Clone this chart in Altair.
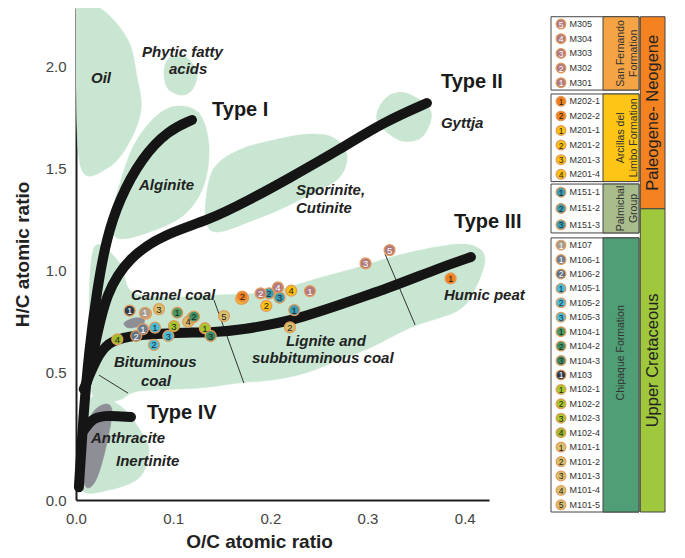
import altair as alt
import pandas as pd

FONT = "Liberation Sans"
GREEN = "#C8E6D2"
GREY = "#8E8E96"
INK = "#1E1E1E"
RING = "#E39B5B"

# ---------------- samples (legend order) ----------------
sample_names = ["M305", "M304", "M303", "M302", "M301",
                "M202-1", "M202-2", "M201-1", "M201-2", "M201-3", "M201-4",
                "M151-1", "M151-2", "M151-3",
                "M107", "M106-1", "M106-2", "M105-1", "M105-2", "M105-3",
                "M104-1", "M104-2", "M104-3", "M103",
                "M102-1", "M102-2", "M102-3", "M102-4",
                "M101-1", "M101-2", "M101-3", "M101-4", "M101-5"]
sample_numbers = ["5", "4", "3", "2", "1",
                  "1", "2", "1", "2", "3", "4",
                  "1", "2", "3",
                  "1", "1", "2", "1", "2", "3",
                  "1", "2", "3", "1",
                  "1", "2", "3", "4",
                  "1", "2", "3", "4", "5"]
sample_fills = ["#B07A7E", "#B07A7E", "#B07A7E", "#B07A7E", "#B07A7E",
                "#F07F1E", "#F07F1E", "#FDC10E", "#FDC10E", "#FDC10E", "#FDC10E",
                "#3B9DB0", "#3B9DB0", "#3B9DB0",
                "#A59D90", "#6D7E93", "#5F6F82", "#4BBCD6", "#4BBCD6", "#4BBCD6",
                "#4B9A66", "#3F9366", "#3E8C68", "#2F3B4C",
                "#A6C72D", "#A6C72D", "#A6C72D", "#9DBD2A",
                "#D9C06E", "#D9C06E", "#D9C06E", "#D9C06E", "#D9C06E"]
sample_textcol = ["white", "white", "white", "white", "white",
                  "#222", "#222", "#222", "#222", "#222", "#222",
                  "#1a2a3a", "#1a2a3a", "#1a2a3a",
                  "white", "white", "white", "#1a2a3a", "#1a2a3a", "#1a2a3a",
                  "#1a2a1a", "#1a2a1a", "#1a2a1a", "white",
                  "#222", "#222", "#222", "#222",
                  "#222", "#222", "#222", "#222", "#222"]
# O/C and H/C atomic ratios
sample_oc = [0.3227, 0.2078, 0.298, 0.190, 0.2407,
             0.3855, 0.1711, 0.170, 0.1958, 0.172, 0.2215,
             0.2246, 0.1986, 0.2095,
             0.071, 0.0689, 0.062, 0.0813, 0.0802, 0.095,
             0.1042, 0.1214, 0.1386, 0.0552,
             0.1327, 0.120, 0.1008, 0.0425,
             0.072, 0.2202, 0.0854, 0.1155, 0.1523]
sample_hc = [1.101, 0.918, 1.036, 0.889, 0.900,
             0.962, 0.873, 0.862, 0.828, 0.866, 0.902,
             0.807, 0.889, 0.868,
             0.793, 0.714, 0.680, 0.721, 0.636, 0.680,
             0.794, 0.775, 0.680, 0.804,
             0.718, 0.770, 0.729, 0.664,
             0.790, 0.722, 0.812, 0.750, 0.778]
# samples whose circles are fully covered by others in the diagram
covered = ["M201-1", "M201-3", "M102-2", "M101-1"]

# ---------------- stratigraphy (legend table) ----------------
group_labels = ["San Fernando\nFormation", "Arcillas del\nLimbo Formation",
                "Palmichal\nGroup", "Chipaque Formation"]
group_counts = [5, 6, 3, 19]
group_colors = ["#F5A445", "#FDC515", "#A9BC8C", "#4F9E75"]
group_top = [0.0, 5.31, 11.5, 15.2]
group_bottom = [5.04, 11.33, 14.86, 34.04]
group_label_y = [2.52, 8.32, 13.18, 23.1]

era_labels = ["Paleogene- Neogene", "Upper Cretaceous"]
era_colors = ["#F58220", "#9FC83D"]
era_top = [0.0, 13.2]
era_bottom = [13.2, 34.04]

# ---------------- facies fields (outline vertices, O/C, H/C) ----------------
blob_oil_x = [0.0, 0.027, 0.0535, 0.0628, 0.0669, 0.0545, 0.034, 0.006, 0.0]
blob_oil_y = [2.30, 2.28, 2.131, 1.95, 1.788, 1.626, 1.508, 1.494, 1.9]
blob_phytic_x = [0.100, 0.114, 0.1245, 0.120, 0.109, 0.095, 0.0905, 0.093]
blob_phytic_y = [2.050, 2.045, 1.969, 1.890, 1.861, 1.890, 1.959, 2.025]
blob_alginite_x = [0.1029, 0.1265, 0.1368, 0.1317, 0.1111, 0.0751, 0.0422, 0.037, 0.0463, 0.0597, 0.0802]
blob_alginite_y = [1.807, 1.772, 1.616, 1.420, 1.273, 1.189, 1.160, 1.273, 1.445, 1.616, 1.748]
blob_sporinite_x = [0.1337, 0.142, 0.1677, 0.2037, 0.2397, 0.2654, 0.2788, 0.2706, 0.2397, 0.2088, 0.178, 0.1471, 0.1348]
blob_sporinite_y = [1.347, 1.503, 1.592, 1.641, 1.670, 1.651, 1.567, 1.455, 1.371, 1.298, 1.239, 1.190, 1.224]
blob_gyttja_x = [0.3395, 0.3652, 0.356, 0.3323, 0.3097, 0.3189]
blob_gyttja_y = [1.871, 1.783, 1.655, 1.641, 1.739, 1.847]
blob_coal_x = [0.0185, 0.0442, 0.0576, 0.0957, 0.1471, 0.1986, 0.25, 0.2912, 0.3323, 0.3837, 0.4095,
               0.4208, 0.4126, 0.394, 0.3457, 0.3045, 0.2706, 0.2366, 0.2016, 0.1677, 0.1265, 0.0648,
               0.0442, 0.0185, 0.0134]
blob_coal_y = [1.111, 1.043, 0.896, 0.871, 0.881, 0.896, 0.964, 1.018, 1.077, 1.126, 1.121,
               1.062, 0.930, 0.807, 0.724, 0.626, 0.562, 0.499, 0.464, 0.450, 0.425, 0.410,
               0.366, 0.366, 0.709]
blob_inert_x = [0.0113, 0.0442, 0.0679, 0.0751, 0.0648, 0.034, 0.006, 0.003]
blob_inert_y = [0.366, 0.342, 0.204, 0.106, -0.016, -0.075, -0.075, 0.121]
blob_anthr_x = [0.0267, 0.037, 0.0309, 0.0206, 0.0103, 0.0062, 0.0134]
blob_anthr_y = [0.342, 0.317, 0.136, -0.026, -0.06, 0.058, 0.268]
blob_cannel_x = [0.0494, 0.0597, 0.070, 0.0679, 0.0545]
blob_cannel_y = [0.744, 0.768, 0.763, 0.734, 0.719]

# ---------------- evolution paths ----------------
type1_x = [0.003, 0.0072, 0.0134, 0.0216, 0.0309, 0.0442, 0.0679, 0.0957, 0.1193]
type1_y = [-0.061, 0.268, 0.611, 0.905, 1.150, 1.347, 1.557, 1.690, 1.739]
type2_x = [0.011, 0.0206, 0.0309, 0.0545, 0.0905, 0.1368, 0.178, 0.2161, 0.2737, 0.3148, 0.3611]
type2_y = [0.45, 0.659, 0.891, 1.067, 1.179, 1.248, 1.346, 1.445, 1.601, 1.724, 1.822]
type3_x = [0.008, 0.0237, 0.037, 0.0617, 0.0957, 0.1471, 0.1677, 0.2191, 0.2706, 0.322, 0.3735, 0.4064]
type3_y = [0.42, 0.602, 0.660, 0.685, 0.695, 0.699, 0.709, 0.749, 0.832, 0.915, 1.013, 1.067]
type4_x = [0.0082, 0.0154, 0.0267, 0.0566]
type4_y = [0.219, 0.268, 0.293, 0.283]

rank_x1 = [0.0237, 0.142, 0.318]
rank_y1 = [0.488, 0.856, 1.082]
rank_x2 = [0.0535, 0.1728, 0.349]
rank_y2 = [0.40, 0.449, 0.734]

# ---------------- text labels ----------------
field_text = ["Oil", "Phytic fatty", "acids", "Alginite", "Gyttja", "Sporinite,", "Cutinite",
              "Humic peat", "Cannel coal", "Lignite and", "subbituminous coal",
              "Bituminous", "coal", "Anthracite", "Inertinite"]
field_x = [0.0154, 0.0679, 0.0957, 0.0648, 0.3755, 0.2263, 0.2263,
           0.3786, 0.0566, 0.216, 0.181, 0.0391, 0.0669, 0.0154, 0.0412]
field_y = [1.945, 2.074, 1.989, 1.420, 1.724, 1.396, 1.307,
           0.882, 0.881, 0.655, 0.572, 0.552, 0.459, 0.180, 0.067]
type_text = ["Type I", "Type II", "Type III", "Type IV"]
type_x = [0.14, 0.3755, 0.389, 0.073]
type_y = [1.787, 1.925, 1.239, 0.302]

# ======================= build tables =======================
def blob_frame(name, xs, ys):
    return pd.DataFrame({"blob": name, "i": range(len(xs)), "oc": xs, "hc": ys})

green_df = pd.concat([
    blob_frame("oil", blob_oil_x, blob_oil_y),
    blob_frame("phytic", blob_phytic_x, blob_phytic_y),
    blob_frame("alginite", blob_alginite_x, blob_alginite_y),
    blob_frame("sporinite", blob_sporinite_x, blob_sporinite_y),
    blob_frame("gyttja", blob_gyttja_x, blob_gyttja_y),
    blob_frame("coal", blob_coal_x, blob_coal_y),
    blob_frame("inertinite", blob_inert_x, blob_inert_y),
], ignore_index=True)
grey_df = pd.concat([
    blob_frame("anthracite", blob_anthr_x, blob_anthr_y),
    blob_frame("cannel", blob_cannel_x, blob_cannel_y),
], ignore_index=True)
path_df = pd.concat([
    blob_frame("I", type1_x, type1_y),
    blob_frame("II", type2_x, type2_y),
    blob_frame("III", type3_x, type3_y),
    blob_frame("IV", type4_x, type4_y),
], ignore_index=True)
rank_df = pd.DataFrame({"x1": rank_x1, "y1": rank_y1, "x2": rank_x2, "y2": rank_y2})
field_df = pd.DataFrame({"t": field_text, "oc": field_x, "hc": field_y})
type_df = pd.DataFrame({"t": type_text, "oc": type_x, "hc": type_y})

samples = pd.DataFrame({"name": sample_names, "num": sample_numbers, "fill": sample_fills,
                        "tc": sample_textcol, "oc": sample_oc, "hc": sample_hc})
plot_samples = samples.iloc[::-1].reset_index(drop=True)  # drawing order
visible_nums = plot_samples[~plot_samples["name"].isin(covered)]

XS = alt.Scale(domain=[0, 0.425], nice=False, zero=False)
YS = alt.Scale(domain=[-0.124, 2.288], nice=False, zero=False)
XA = alt.Axis(values=[0, 0.1, 0.2, 0.3, 0.4], format=".1f", title="O/C atomic ratio",
              grid=False, ticks=False, domainColor=INK, domainWidth=2, labelFlush=False,
              labelFont=FONT, labelFontSize=15, labelColor="#444", labelPadding=11,
              titleFont=FONT, titleFontSize=19, titleFontWeight="bold", titleColor="#222",
              titlePadding=6, titleX=183)
YA = alt.Axis(values=[-0.124, 0.5, 1.0, 1.5, 2.0],
              labelExpr="datum.value < 0 ? '0.0' : format(datum.value, '.1f')",
              title="H/C atomic ratio", grid=False, ticks=False, domainColor=INK, domainWidth=2,
              labelFlush=False, labelFont=FONT, labelFontSize=15, labelColor="#444", labelPadding=10,
              titleFont=FONT, titleFontSize=19, titleFontWeight="bold", titleColor="#222",
              titlePadding=13)


def X(f="oc"):
    return alt.X(f, type="quantitative", scale=XS, axis=XA)


def Y(f="hc"):
    return alt.Y(f, type="quantitative", scale=YS, axis=YA)


green = alt.Chart(green_df).mark_line(
    fill=GREEN, stroke=GREEN, strokeWidth=0.5, interpolate="cardinal-closed", clip=True
).encode(x=X(), y=Y(), detail="blob:N", order="i:Q")
grey = alt.Chart(grey_df).mark_line(
    fill=GREY, stroke=GREY, strokeWidth=0.5, interpolate="cardinal-closed", clip=True
).encode(x=X(), y=Y(), detail="blob:N", order="i:Q")
ranks = alt.Chart(rank_df).mark_rule(color="#333", strokeWidth=1).encode(
    x=X("x1"), y=Y("y1"), x2="x2:Q", y2="y2:Q")
paths = alt.Chart(path_df).mark_line(
    color="#151515", strokeWidth=10, strokeCap="round", strokeJoin="round", interpolate="basis"
).encode(x=X(), y=Y(), detail="blob:N", order="i:Q")
field_lbl = alt.Chart(field_df).mark_text(
    font=FONT, fontSize=15, fontWeight="bold", fontStyle="italic", color="#222",
    align="left", baseline="middle"
).encode(x=X(), y=Y(), text="t:N")
type_lbl = alt.Chart(type_df).mark_text(
    font=FONT, fontSize=20, fontWeight="bold", color="#1a1a1a", align="left", baseline="middle"
).encode(x=X(), y=Y(), text="t:N")
pts = alt.Chart(plot_samples).mark_point(
    filled=True, size=120, stroke=RING, strokeWidth=1.3, opacity=1, shape="circle"
).encode(x=X(), y=Y(), fill=alt.Fill("fill:N", scale=None))
pts_num = alt.Chart(visible_nums).mark_text(
    font=FONT, fontSize=9.5, baseline="middle", align="center", dy=0.5
).encode(x=X(), y=Y(), text="num:N", color=alt.Color("tc:N", scale=None))

main = alt.layer(green, grey, ranks, paths, field_lbl, type_lbl, pts, pts_num).properties(
    width=413, height=492)

# ======================= legend table =======================
rows = []
for g, n in enumerate(group_counts):
    step = (group_bottom[g] - group_top[g]) / n
    for i in range(n):
        rows.append(group_top[g] + (i + 0.5) * step)
leg = samples.copy()
leg["row"] = rows
leg["cx"] = 10.0
leg["tx"] = 18.5

grp_df = pd.DataFrame({"label": group_labels, "color": group_colors, "top": group_top,
                       "bottom": group_bottom, "ly": group_label_y,
                       "a0": 0.0, "a1": 88.0, "b0": 52.0, "lx": 70.0})
era_df = pd.DataFrame({"label": era_labels, "color": era_colors, "top": era_top,
                       "bottom": era_bottom, "c0": 89.3, "c1": 114.0, "lx": 101.6})
era_df["ly"] = (era_df["top"] + era_df["bottom"]) / 2

LX = alt.Scale(domain=[0, 114], nice=False, zero=False)
LY = alt.Scale(domain=[-0.6, 34.04], nice=False, zero=False, reverse=True)


def lx(f):
    return alt.X(f, type="quantitative", scale=LX, axis=None)


def ly(f):
    return alt.Y(f, type="quantitative", scale=LY, axis=None)


box_a = alt.Chart(grp_df).mark_rect(fill="white", stroke="#444", strokeWidth=1).encode(
    x=lx("a0"), x2="a1:Q", y=ly("top"), y2="bottom:Q")
box_b = alt.Chart(grp_df).mark_rect(stroke="#444", strokeWidth=1).encode(
    x=lx("b0"), x2="a1:Q", y=ly("top"), y2="bottom:Q", fill=alt.Fill("color:N", scale=None))
box_c = alt.Chart(era_df).mark_rect(stroke="#444", strokeWidth=1).encode(
    x=lx("c0"), x2="c1:Q", y=ly("top"), y2="bottom:Q", fill=alt.Fill("color:N", scale=None))
grp_txt = alt.Chart(grp_df).mark_text(
    font=FONT, fontSize=10.5, angle=270, color="#333", align="center", baseline="middle",
    lineBreak="\n", lineHeight=12.5
).encode(x=lx("lx"), y=ly("ly"), text="label:N")
era_txt = alt.Chart(era_df).mark_text(
    font=FONT, fontSize=16.5, angle=270, color="#222", align="center", baseline="middle"
).encode(x=lx("lx"), y=ly("ly"), text="label:N")
leg_pts = alt.Chart(leg).mark_point(
    filled=True, size=95, stroke=RING, strokeWidth=1.2, opacity=1, shape="circle"
).encode(x=lx("cx"), y=ly("row"), fill=alt.Fill("fill:N", scale=None))
leg_num = alt.Chart(leg).mark_text(font=FONT, fontSize=8.5, baseline="middle", dy=0.5).encode(
    x=lx("cx"), y=ly("row"), text="num:N", color=alt.Color("tc:N", scale=None))
leg_name = alt.Chart(leg).mark_text(font=FONT, fontSize=9, color="#333", align="left",
                                    baseline="middle").encode(
    x=lx("tx"), y=ly("row"), text="name:N")

legend = alt.layer(box_a, box_b, box_c, grp_txt, era_txt, leg_pts, leg_num, leg_name).properties(
    width=114, height=504)

chart = alt.hconcat(main, legend, spacing=62, bounds="flush").properties(
    padding={"left": 5, "top": 0, "right": 0, "bottom": 0}
).configure_view(stroke=None)

chart.save("out.html", embed_options={"renderer": "svg", "actions": False})
